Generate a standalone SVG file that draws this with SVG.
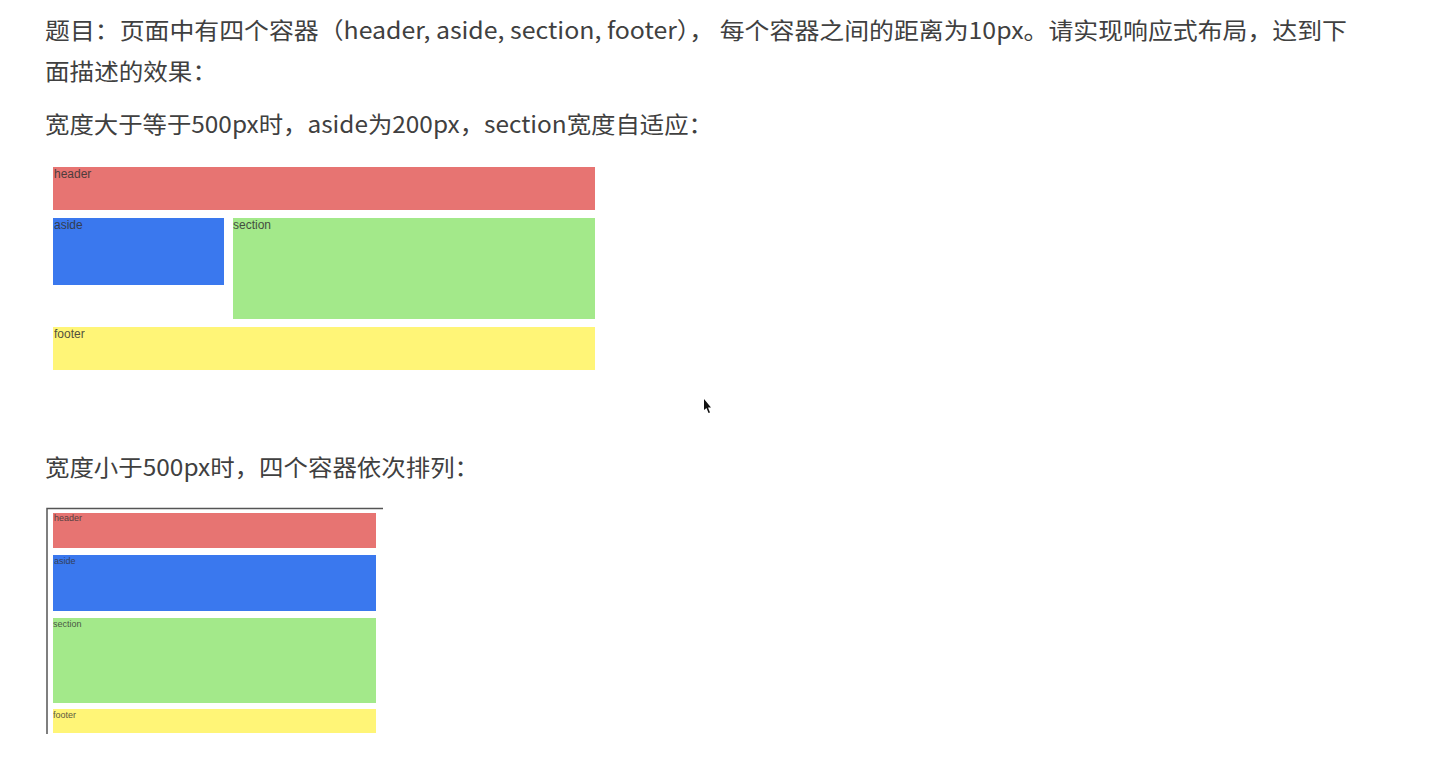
<svg xmlns="http://www.w3.org/2000/svg" width="1430" height="768" viewBox="0 0 1430 768">
<style>
.t{font-family:"Noto Sans CJK SC","Liberation Sans",sans-serif;font-size:23px;fill:#404040}
.l{font-family:"Liberation Sans",sans-serif;font-size:12px;fill:#333;opacity:.85}
.s{font-family:"Liberation Sans",sans-serif;font-size:9px;fill:#333;opacity:.8}
.hd{fill:#e77472}.as{fill:#3a78ee}.se{fill:#a3e98a}.ft{fill:#fff577}
</style>
<rect width="1430" height="768" fill="#ffffff"/>
<g id="text">
<text class="t" x="45" y="39" textLength="1302" lengthAdjust="spacingAndGlyphs">题目：页面中有四个容器（header, aside, section, footer）， 每个容器之间的距离为10px。请实现响应式布局，达到下</text>
<text class="t" x="45" y="80" textLength="172" lengthAdjust="spacingAndGlyphs">面描述的效果：</text>
<text class="t" x="45" y="133" textLength="668" lengthAdjust="spacingAndGlyphs">宽度大于等于500px时，aside为200px，section宽度自适应：</text>
<text class="t" x="45" y="476" textLength="434" lengthAdjust="spacingAndGlyphs">宽度小于500px时，四个容器依次排列：</text>
</g>
<g id="wide-layout">
<g id="w-header"><rect class="hd" x="53" y="167" width="542" height="43"/><text class="l" x="54" y="178">header</text></g>
<g id="w-aside"><rect class="as" x="53" y="218" width="171" height="67"/><text class="l" x="54" y="229">aside</text></g>
<g id="w-section"><rect class="se" x="233" y="218" width="362" height="101"/><text class="l" x="233" y="229">section</text></g>
<g id="w-footer"><rect class="ft" x="53" y="327" width="542" height="43"/><text class="l" x="54" y="338">footer</text></g>
</g>
<g id="narrow-layout">
<path d="M47 734 V508.5 H383" fill="none" stroke="#555" stroke-width="1.5"/>
<g id="n-header"><rect class="hd" x="53" y="513" width="323" height="35"/><text class="s" x="54" y="521">header</text></g>
<g id="n-aside"><rect class="as" x="53" y="555" width="323" height="56"/><text class="s" x="54" y="564">aside</text></g>
<g id="n-section"><rect class="se" x="53" y="618" width="323" height="85"/><text class="s" x="53" y="627">section</text></g>
<g id="n-footer"><rect class="ft" x="53" y="709" width="323" height="24"/><text class="s" x="53" y="718">footer</text></g>
</g>
<g id="cursor"><polygon points="704,399 704,410 706.5,408 708.5,413 710,412.5 708,407.5 711,407.5" fill="#111"/></g>
</svg>
